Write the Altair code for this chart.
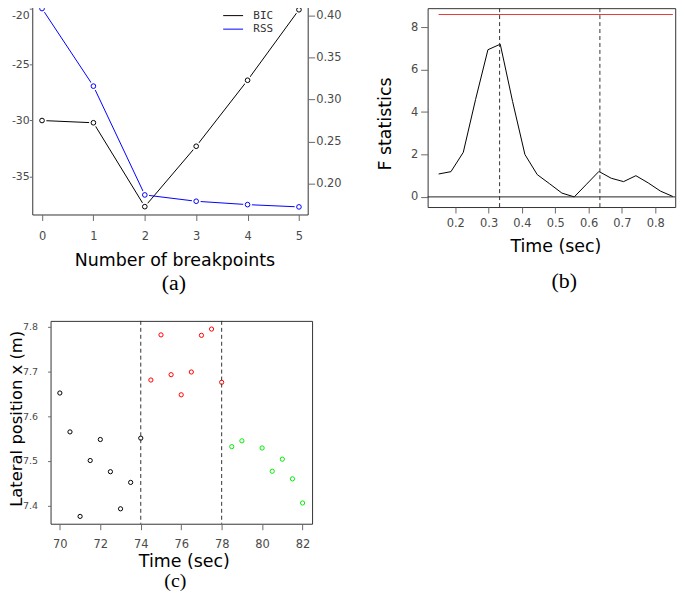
import altair as alt
import pandas as pd

# ---------------- data ----------------
# (a) BIC / RSS versus number of breakpoints
n_breaks = [0, 1, 2, 3, 4, 5]
bic_vals = [-30.0, -30.2, -37.7, -32.3, -26.4, -20.1]
rss_vals = [0.408, 0.316, 0.187, 0.1795, 0.1755, 0.1728]
series_names = ["BIC", "RSS"]
series_colors = ["black", "blue"]

# (b) F statistics over time
f_time = [0.150, 0.187, 0.224, 0.261, 0.298, 0.335, 0.372, 0.409, 0.446, 0.483,
          0.520, 0.557, 0.594, 0.631, 0.668, 0.705, 0.742, 0.779, 0.816, 0.853]
f_stat = [1.08, 1.19, 2.10, 4.60, 6.94, 7.20, 4.50, 2.00, 1.05, 0.62,
          0.18, 0.00, 0.60, 1.20, 0.88, 0.72, 1.00, 0.66, 0.27, 0.02]
f_crit = [8.6]
f_crit_from = [0.150]
f_crit_to = [0.853]
f_breaks = [0.333, 0.634]

# (c) lateral position with segments
c_time = [70, 70.5, 71, 71.5, 72, 72.5, 73, 73.5, 74,
          74.5, 75, 75.5, 76, 76.5, 77, 77.5, 78,
          78.5, 79, 80, 80.5, 81, 81.5, 82]
c_pos = [7.652, 7.565, 7.376, 7.501, 7.548, 7.476, 7.393, 7.452, 7.551,
         7.681, 7.782, 7.693, 7.648, 7.699, 7.781, 7.795, 7.676,
         7.532, 7.545, 7.529, 7.477, 7.504, 7.460, 7.406]
c_seg = ["1"] * 9 + ["2"] * 8 + ["3"] * 7
seg_names = ["1", "2", "3"]
seg_colors = ["black", "#ff0000", "#00ee00"]
c_breaks = [74, 78]

# ---------------- style ----------------
FONT = "DejaVu Sans"
LABEL_COLOR = "#4a4a4a"
TICK_COLOR = "#6a6a6a"
FRAME = "#333333"
TITLE_SIZE = 17.5
LABEL_SIZE = 11.5
frame = alt.ViewBackground(stroke=FRAME, strokeWidth=1)


def caption(text, dx, offset, size=22):
    return alt.TitleParams(text, orient="bottom", frame="group", anchor="middle",
                           font="Liberation Serif", fontSize=size, fontWeight="normal",
                           color="black", offset=offset, dx=dx)


# ---------------- panel (a) ----------------
df_bic = pd.DataFrame({"k": n_breaks, "v": bic_vals, "s": series_names[0]})
df_rss = pd.DataFrame({"k": n_breaks, "v": rss_vals, "s": series_names[1]})

xa = alt.X("k:Q", scale=alt.Scale(domain=[-0.19, 5.17], nice=False, zero=False),
           axis=alt.Axis(values=n_breaks, format="d", title="Number of breakpoints",
                         tickSize=6, labelPadding=10, titlePadding=10, titleX=143))
color_a = alt.Color("s:N", scale=alt.Scale(domain=series_names, range=series_colors),
                    legend=alt.Legend(title=None, orient="none", legendX=196.5, legendY=9.5,
                                      symbolType="M-2,0L2,0", symbolSize=100,
                                      symbolStrokeWidth=1, labelFont="DejaVu Sans Mono",
                                      labelFontSize=11, labelColor="#333333",
                                      labelOffset=14.8, rowPadding=1.6, padding=0))


def series(df, yenc, col):
    base = alt.Chart(df).encode(x=xa, y=yenc)
    line = base.mark_line(strokeWidth=1).encode(color=color_a)
    halo = base.mark_point(filled=True, shape="circle", size=78, color="white", opacity=1)
    pts = base.mark_point(shape="circle", size=22, strokeWidth=1, color=col, opacity=1)
    return alt.layer(line, halo, pts)


y_bic = alt.Y("v:Q", scale=alt.Scale(domain=[-38.4, -19.29], nice=False, zero=False),
              axis=alt.Axis(orient="left", values=[-35, -30, -25, -20], format="d",
                            labelExpr="replace(datum.label, '\u2212', '-')",
                            labelOffset={"condition": {"test": "datum.value == -20", "value": 6.5},
                                         "value": 0},
                            labelFontSize=11, title=None, tickSize=3, labelPadding=0))
y_rss = alt.Y("v:Q", scale=alt.Scale(domain=[0.1638, 0.4173], nice=False, zero=False),
              axis=alt.Axis(orient="right", values=[0.20, 0.25, 0.30, 0.35, 0.40],
                            format=".2f", title=None, tickSize=7, labelPadding=1))

panel_a = alt.layer(series(df_bic, y_bic, "black"), series(df_rss, y_rss, "blue")).resolve_scale(
    y="independent").properties(width=277, height=215, view=frame,
                                title=caption("(a)", 4, 4))

# ---------------- panel (b) ----------------
df_f = pd.DataFrame({"t": f_time, "F": f_stat})
xb = alt.X("t:Q", scale=alt.Scale(domain=[0.117, 0.860], nice=False, zero=False),
           axis=alt.Axis(values=[0.2, 0.3, 0.4, 0.5, 0.6, 0.7, 0.8], format=".1f",
                         title="Time (sec)", tickSize=6, labelPadding=5, titlePadding=8.5,
                         titleX=128.5))
yb = alt.Y("F:Q", scale=alt.Scale(domain=[-0.478, 8.9], nice=False, zero=False),
           axis=alt.Axis(values=[0, 2, 4, 6, 8], format="d", title="F statistics",
                         tickSize=7, labelPadding=3, titlePadding=16, titleY=116))
line_b = alt.Chart(df_f).mark_line(color="black", strokeWidth=1).encode(x=xb, y=yb)
crit_b = alt.Chart(pd.DataFrame({"t": f_crit_from, "t2": f_crit_to, "F": f_crit})).mark_rule(
    color="#e23a3a", strokeWidth=1).encode(x="t:Q", x2="t2:Q", y="F:Q")
zero_b = alt.Chart(pd.DataFrame({"F": [0]})).mark_rule(color="#222222", strokeWidth=1).encode(y="F:Q")
vl_b = alt.Chart(pd.DataFrame({"t": f_breaks})).mark_rule(
    color="#333333", strokeWidth=1, strokeDash=[4, 3]).encode(x="t:Q")
panel_b = alt.layer(line_b, crit_b, zero_b, vl_b).properties(
    width=249, height=200, view=frame, title=caption("(b)", 13, 15.5))

# ---------------- panel (c) ----------------
df_c = pd.DataFrame({"t": c_time, "x": c_pos, "seg": c_seg})
xc = alt.X("t:Q", scale=alt.Scale(domain=[69.54, 82.47], nice=False, zero=False),
           axis=alt.Axis(values=[70, 72, 74, 76, 78, 80, 82], format="d", title="Time (sec)",
                         tickSize=6, labelPadding=9, titlePadding=3, titleX=134))
yc = alt.Y("x:Q", scale=alt.Scale(domain=[7.3596, 7.8133], nice=False, zero=False),
           axis=alt.Axis(values=[7.4, 7.5, 7.6, 7.7, 7.8], format=".1f",
                         title="Lateral position x (m)", tickSize=3, labelPadding=10,
                         labelFontSize=9.5, titlePadding=-2, titleFontSize=16.5, titleY=98))
pts_c = alt.Chart(df_c).mark_point(shape="circle", size=18, strokeWidth=1, opacity=1).encode(
    x=xc, y=yc, color=alt.Color("seg:N", scale=alt.Scale(domain=seg_names, range=seg_colors),
                                legend=None))
vl_c = alt.Chart(pd.DataFrame({"t": c_breaks})).mark_rule(
    color="#333333", strokeWidth=1, strokeDash=[4, 3]).encode(x="t:Q")
panel_c = alt.layer(pts_c, vl_c).properties(width=263, height=204, view=frame,
                                             title=caption("(c)", -6, 1, 20))


# ---------------- layout ----------------
def spacer(w):
    return alt.Chart(pd.DataFrame({"v": [0]})).mark_point(opacity=0).encode(
        x=alt.X("v:Q", axis=None), y=alt.Y("v:Q", axis=None)).properties(
        width=w, height=1, view=alt.ViewBackground(stroke="transparent", strokeWidth=0))


row1 = alt.hconcat(spacer(1), panel_a, panel_b, spacing=120.6, bounds="flush",
                   center=True).resolve_scale(color="independent")
row2 = alt.hconcat(spacer(139.6), panel_c, spacing=0, bounds="flush").resolve_scale(
    color="independent")

chart = alt.vconcat(row1, row2, spacing=23).resolve_scale(
    color="independent"
).properties(
    padding={"left": -100.2, "top": -10, "right": 0, "bottom": 0}
).configure_view(
    stroke="transparent"
).configure_axis(
    labelFont=FONT, labelFontSize=LABEL_SIZE, labelColor=LABEL_COLOR,
    tickColor=TICK_COLOR, tickWidth=1, domain=False, grid=False,
    titleFont=FONT, titleFontSize=TITLE_SIZE, titleFontWeight="normal", titleColor="black",
    labelFlush=False, labelOverlap=False
)

chart.save("out.html", embed_options={"renderer": "svg", "actions": False})
